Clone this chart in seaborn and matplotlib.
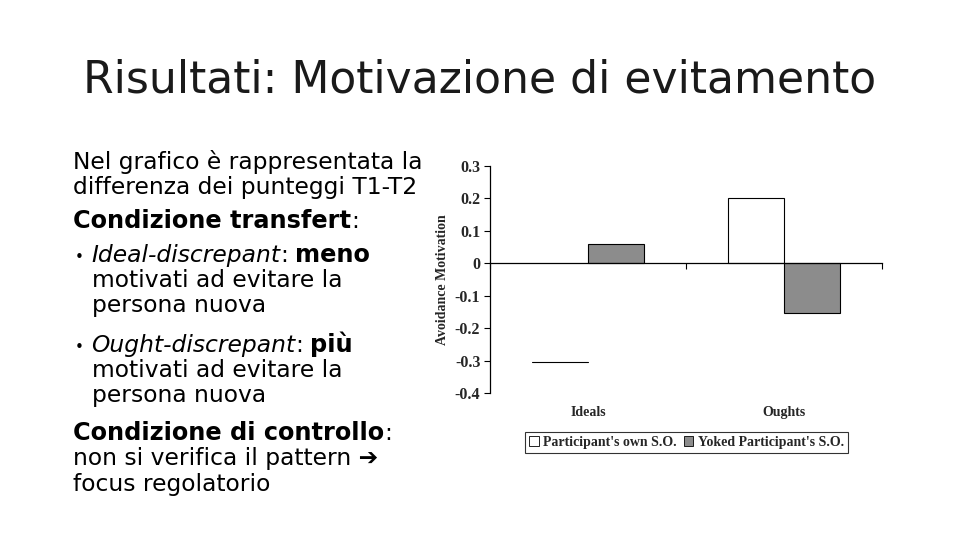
import matplotlib
matplotlib.use("Agg")
import matplotlib.pyplot as plt
from matplotlib.patches import Patch
import pandas as pd
import seaborn as sns

# chart data
categories = ["Ideals", "Oughts"]
conditions = ["Participant's own S.O.", "Yoked Participant's S.O."]
own_values = [-0.305, 0.20]
yoked_values = [0.06, -0.155]
y_ticks = [-0.4, -0.3, -0.2, -0.1, 0.0, 0.1, 0.2, 0.3]
y_tick_labels = ["-0.4", "-0.3", "-0.2", "-0.1", "0", "0.1", "0.2", "0.3"]
bar_colors = {conditions[0]: "white", conditions[1]: "#8c8c8c"}

title = "Risultati: Motivazione di evitamento"
# each line: (x px, baseline px from top, [(text, weight, style), ...])
text_lines = [
    (73, 169, [("Nel grafico è rappresentata la", "normal", "normal")]),
    (73, 194, [("differenza dei punteggi T1-T2", "normal", "normal")]),
    (73, 228, [("Condizione transfert", "bold", "normal"), (":", "normal", "normal")]),
    (91, 262, [("Ideal-discrepant", "normal", "italic"), (":", "normal", "normal"),
               (" ", None, None), ("meno", "bold", "normal")]),
    (92, 287, [("motivati ad evitare la", "normal", "normal")]),
    (92, 312, [("persona nuova", "normal", "normal")]),
    (91, 352, [("Ought-discrepant", "normal", "italic"), (":", "normal", "normal"),
               (" ", None, None), ("più", "bold", "normal")]),
    (92, 377, [("motivati ad evitare la", "normal", "normal")]),
    (92, 402, [("persona nuova", "normal", "normal")]),
    (73, 440, [("Condizione di controllo", "bold", "normal"), (":", "normal", "normal")]),
    (73, 465, [("non si verifica il pattern ➔", "normal", "normal")]),
    (73, 491, [("focus regolatorio", "normal", "normal")]),
]
bullet_rows = [262, 352]

df = pd.DataFrame({
    "category": categories * 2,
    "condition": [conditions[0]] * 2 + [conditions[1]] * 2,
    "value": own_values + yoked_values,
})

sns.set_style("white")
plt.rcParams["font.family"] = ["DejaVu Sans"]

W, H = 960, 540
fig = plt.figure(figsize=(9.6, 5.4), dpi=100)
fig.patch.set_facecolor("white")

ax = fig.add_axes([490 / W, 1 - 393 / H, 392 / W, (393 - 165.7) / H])
sns.barplot(data=df, x="category", y="value", hue="condition",
            order=categories, hue_order=conditions, palette=bar_colors,
            width=0.57, edgecolor="black", linewidth=0.8,
            legend=False, ax=ax)

# the first white bar only shows its bottom edge in the reference
p = ax.containers[0][0]
p.set_edgecolor("none")
ax.plot([p.get_x(), p.get_x() + p.get_width()],
        [p.get_y() + p.get_height()] * 2, color="black", lw=0.8)

serif = {"family": "Liberation Serif", "weight": "bold"}
ax.set_xlim(-0.5, 1.5)
ax.set_ylim(-0.4, 0.3)
ax.set_yticks(y_ticks)
ax.set_yticklabels(y_tick_labels, fontdict={**serif, "size": 11.5})
ax.spines["bottom"].set_position(("data", 0))
ax.spines["top"].set_visible(False)
ax.spines["right"].set_visible(False)
for s in ("left", "bottom"):
    ax.spines[s].set_color("black")
    ax.spines[s].set_linewidth(0.9)
ax.set_xticks([-0.5, 0.5, 1.5])
ax.set_xticklabels([])
ax.tick_params(axis="both", direction="out", length=4, width=0.8,
               color="black", bottom=True, left=True, pad=3)
ax.set_xlabel("")
ax.set_ylabel("Avoidance Motivation", fontdict={**serif, "size": 10}, labelpad=4)
for i, cat in enumerate(categories):
    ax.text(i, -0.4615, cat, ha="center", va="center", clip_on=False,
            fontdict={**serif, "size": 10})

handles = [Patch(facecolor=bar_colors[c], edgecolor="black", linewidth=0.6) for c in conditions]
leg = fig.legend(handles, conditions, loc="upper left", ncol=2,
                 bbox_to_anchor=(525 / W, 1 - 432 / H), frameon=True, fancybox=False,
                 edgecolor="black", handlelength=0.7, handleheight=0.7,
                 handletextpad=0.3, columnspacing=0.5, borderpad=0.3,
                 borderaxespad=0, prop={"family": "Liberation Serif", "weight": "bold", "size": 10})
leg.get_frame().set_linewidth(0.8)

fig.text(0.5, 1 - 80 / H, title, ha="center", va="center", fontsize=31.8, color="#1a1a1a")

renderer = fig.canvas.get_renderer()
sizes = {"normal": 16.8, "bold": 17.3}
space_w = 0.32 * 16.8 * 100 / 72
for x0, base, pieces in text_lines:
    x = x0
    for txt, weight, style in pieces:
        if weight is None:
            x += space_w
            continue
        t = fig.text(x / W, 1 - base / H, txt, ha="left", va="baseline", fontsize=sizes[weight],
                     fontweight=weight, fontstyle=style, color="black")
        x = t.get_window_extent(renderer).x1
for base in bullet_rows:
    fig.text(75 / W, 1 - base / H, "•", ha="left", va="baseline", fontsize=11, color="black")

fig.savefig("out.png", dpi=100, facecolor="white")
